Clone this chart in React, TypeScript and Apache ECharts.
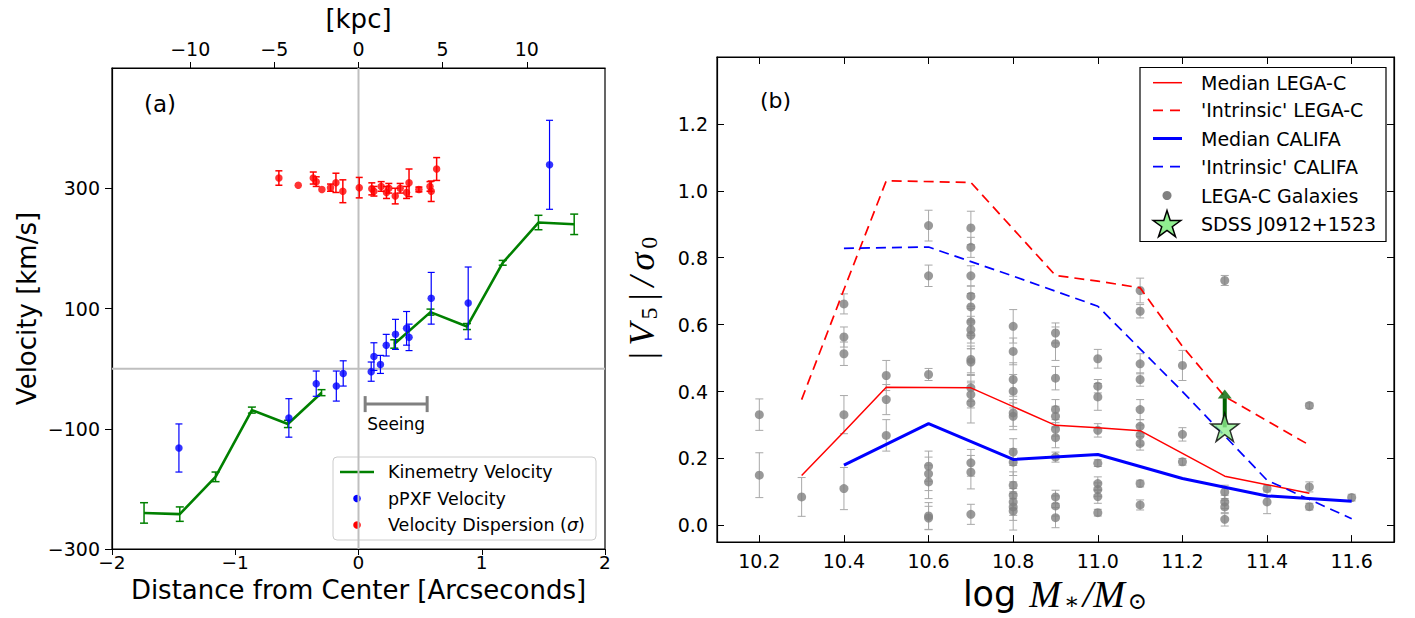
import React, { useEffect, useRef } from 'react';
import * as echarts from 'echarts';

// ---------------- Panel (a) data ----------------
const arcTicks = [-2, -1, 0, 1, 2];
const kpcTicks = [-10, -5, 0, 5, 10];
const velTicks = [-300, -100, 100, 300];

const kinX = [-1.74, -1.45, -1.16, -0.865, -0.573, -0.3, 0.0, 0.29, 0.584, 0.88, 1.17, 1.46, 1.75];
const kinV = [-240, -242, -180, -69, -92, -40, null, 41, 94, 70, 176, 243, 240];
const kinErr = [17, 12, 8, 5, 6, 5, 0, 7, 5, 5, 4, 12, 17];

const ppxfX = [-1.457, -0.565, -0.343, -0.18, -0.124, 0.103, 0.125, 0.178, 0.225, 0.3, 0.39, 0.41, 0.59, 0.89, 1.55];
const ppxfV = [-132, -82, -25, -29, -8, -5, 20, 7, 39, 57, 67, 52, 117, 109, 339];
const ppxfErr = [40, 32, 21, 25, 21, 16, 23, 15, 18, 25, 28, 22, 43, 60, 74];

const dispX = [-0.646, -0.489, -0.367, -0.343, -0.297, -0.227, -0.183, -0.127, 0.006, 0.108, 0.125, 0.184, 0.227, 0.246, 0.298, 0.338, 0.39, 0.41, 0.49, 0.58, 0.59, 0.634];
const dispV = [317, 305, 317, 311, 298, 301, 309, 295, 301, 299, 295, 303, 293, 300, 287, 300, 293, 309, 298, 303, 295, 332];
const dispErr = [12, 0, 10, 8, 0, 6, 16, 19, 17, 10, 8, 8, 10, 8, 13, 8, 10, 23, 4, 8, 17, 19];

const seeingRange = [0.054, 0.557];
const seeingLevel = -59;
const kpcRange = [-14.65, 14.65];

// ---------------- Panel (b) data ----------------
const massTicks = [10.2, 10.4, 10.6, 10.8, 11.0, 11.2, 11.4, 11.6];
const ratioTicks = [0, 0.2, 0.4, 0.6, 0.8, 1.0, 1.2];

const galX = [
  10.2, 10.2,
  10.3,
  10.4, 10.4, 10.4, 10.4, 10.4,
  10.5, 10.5, 10.5,
  10.6, 10.6, 10.6, 10.6, 10.6, 10.6, 10.6, 10.6,
  10.7, 10.7, 10.7, 10.7, 10.7, 10.7, 10.7, 10.7, 10.7, 10.7, 10.7, 10.7, 10.7, 10.7, 10.7, 10.7,
  10.8, 10.8, 10.8, 10.8, 10.8, 10.8, 10.8, 10.8, 10.8, 10.8, 10.8, 10.8, 10.8,
  10.9, 10.9, 10.9, 10.9, 10.9, 10.9, 10.9, 10.9, 10.9, 10.9, 10.9,
  11.0, 11.0, 11.0, 11.0, 11.0, 11.0, 11.0, 11.0, 11.0,
  11.1, 11.1, 11.1, 11.1, 11.1, 11.1, 11.1, 11.1, 11.1, 11.1,
  11.2, 11.2, 11.2,
  11.3, 11.3, 11.3, 11.3, 11.3,
  11.4, 11.4,
  11.5, 11.5, 11.5,
  11.6,
];
const galY = [
  0.331, 0.15,
  0.085,
  0.662, 0.563, 0.513, 0.331, 0.11,
  0.448, 0.376, 0.269,
  0.896, 0.746, 0.451, 0.177, 0.154, 0.13, 0.028, 0.022,
  0.889, 0.831, 0.746, 0.685, 0.653, 0.608, 0.585, 0.568, 0.496, 0.488, 0.411, 0.391, 0.366, 0.187, 0.159, 0.033,
  0.595, 0.52, 0.436, 0.401, 0.336, 0.326, 0.219, 0.189, 0.12, 0.09, 0.07, 0.055, 0.043,
  0.575, 0.543, 0.44, 0.346, 0.326, 0.287, 0.262, 0.204, 0.085, 0.058, 0.023,
  0.498, 0.416, 0.384, 0.284, 0.186, 0.125, 0.107, 0.086, 0.038,
  0.702, 0.64, 0.483, 0.436, 0.346, 0.296, 0.27, 0.245, 0.125, 0.061,
  0.478, 0.272, 0.19,
  0.732, 0.1, 0.07, 0.055, 0.018,
  0.11, 0.07,
  0.358, 0.115, 0.056,
  0.083,
];
const galErr = [
  0.047, 0.067,
  0.058,
  0.03, 0.03, 0.035, 0.057, 0.063,
  0.045, 0.045, 0.047,
  0.046, 0.032, 0.018, 0.045, 0.05, 0.05, 0.04, 0.035,
  0.05, 0.03, 0.03, 0.03, 0.04, 0.04, 0.04, 0.04, 0.04, 0.04, 0.04, 0.04, 0.06, 0.04, 0.05, 0.03,
  0.05, 0.04, 0.05, 0.05, 0.04, 0.04, 0.04, 0.04, 0.04, 0.04, 0.04, 0.04, 0.057,
  0.03, 0.05, 0.035, 0.03, 0.03, 0.02, 0.03, 0.015, 0.02, 0.03, 0.03,
  0.028, 0.02, 0.04, 0.02, 0.01, 0.02, 0.02, 0.02, 0.01,
  0.037, 0.02, 0.03, 0.02, 0.03, 0.02, 0.03, 0.02, 0.01, 0.015,
  0.045, 0.02, 0.01,
  0.015, 0.02, 0.02, 0.02, 0.02,
  0.01, 0.035,
  0.008, 0.015, 0.01,
  0.01,
];

const medLegaX = [10.3, 10.4, 10.5, 10.7, 10.9, 11.0, 11.1, 11.3, 11.5];
const medLegaY = [0.149, 0.28, 0.413, 0.411, 0.299, 0.292, 0.283, 0.147, 0.096];
const intLegaX = [10.3, 10.4, 10.5, 10.7, 10.9, 11.0, 11.1, 11.2, 11.3, 11.5];
const intLegaY = [0.376, 0.705, 1.03, 1.025, 0.747, 0.73, 0.71, 0.535, 0.385, 0.24];
const medCalX = [10.4, 10.6, 10.8, 11.0, 11.2, 11.4, 11.6];
const medCalY = [0.18, 0.304, 0.197, 0.212, 0.14, 0.088, 0.072];
const intCalX = [10.4, 10.6, 10.8, 11.0, 11.2, 11.4, 11.6];
const intCalY = [0.828, 0.832, 0.745, 0.655, 0.4, 0.135, 0.02];

const starX = [11.3];
const starY = [0.293];
const arrowTip = [0.38];
const arrowHead = [0.393];

const SANS = "'DejaVu Sans', sans-serif";
const SERIF = "'Liberation Serif', 'DejaVu Serif', serif";

const STAR_PATH =
  'path://M50,0L61.17,34.63L97.55,34.55L68.07,55.87L79.39,90.45L50,69L20.61,90.45L31.93,55.87L2.45,34.55L38.83,34.63Z';

function starPoints(cx: number, cy: number, R: number) {
  const pts: number[][] = [];
  for (let i = 0; i < 10; i++) {
    const ang = (-90 + i * 36) * Math.PI / 180;
    const r = i % 2 === 0 ? R : R * 0.38;
    pts.push([cx + r * Math.cos(ang), cy + r * Math.sin(ang)]);
  }
  return pts;
}

const minusFmt = (v: number) => (v < 0 ? '\u2212' + Math.abs(v) : String(v));

function errRender(color: string, width: number, cap: number) {
  return (_params: any, api: any) => {
    const x = api.value(0);
    const y = api.value(1);
    const e = api.value(2);
    if (!(e > 0)) return null;
    const t = api.coord([x, y + e]);
    const b = api.coord([x, y - e]);
    const st = { stroke: color, lineWidth: width };
    return {
      type: 'group',
      children: [
        { type: 'line', shape: { x1: t[0], y1: t[1], x2: b[0], y2: b[1] }, style: st },
        { type: 'line', shape: { x1: t[0] - cap / 2, y1: t[1], x2: t[0] + cap / 2, y2: t[1] }, style: st },
        { type: 'line', shape: { x1: b[0] - cap / 2, y1: b[1], x2: b[0] + cap / 2, y2: b[1] }, style: st },
      ],
    };
  };
}

function zip(xs: number[], ys: (number | null)[]) {
  return xs.map((x, i) => (ys[i] == null ? [x, '-'] : [x, ys[i]]));
}
function zip3(xs: number[], ys: (number | null)[], es: number[]) {
  return xs.map((x, i) => [x, ys[i], es[i]]).filter((d) => d[1] != null);
}

function buildOption() {
  const blackLine = { color: '#000', width: 1.2 };
  const txt = { color: '#000', fontFamily: SANS };
  const mathTok = { fontSize: 36, fontFamily: SERIF, fontStyle: 'italic', color: '#000', padding: [0, 3, 0, 3] };
  return {
    animation: false,
    backgroundColor: '#fff',
    grid: [
      { left: 112, top: 68, width: 493, height: 481, show: true, borderColor: '#000', borderWidth: 1.2, containLabel: false },
      { left: 717, top: 57, width: 677, height: 486, show: true, borderColor: '#000', borderWidth: 1.2, containLabel: false },
    ],
    xAxis: [
      {
        type: 'value', gridIndex: 0, min: -2, max: 2, position: 'bottom',
        axisLine: { show: true, onZero: false, lineStyle: blackLine },
        axisTick: { show: true, inside: false, length: 6, customValues: arcTicks, lineStyle: { color: '#000' } },
        axisLabel: { show: true, customValues: arcTicks, formatter: minusFmt, fontSize: 18.5, margin: 4, ...txt },
        splitLine: { show: false },
        name: 'Distance from Center [Arcseconds]', nameLocation: 'middle', nameGap: 20,
        nameTextStyle: { fontSize: 26, ...txt },
      },
      {
        type: 'value', gridIndex: 0, min: kpcRange[0], max: kpcRange[1], position: 'top',
        axisLine: { show: true, onZero: false, lineStyle: blackLine },
        axisTick: { show: true, inside: false, length: 6, customValues: kpcTicks, lineStyle: { color: '#000' } },
        axisLabel: { show: true, customValues: kpcTicks, formatter: minusFmt, fontSize: 19, margin: 10, ...txt },
        splitLine: { show: false },
        name: '[kpc]', nameLocation: 'middle', nameGap: 36,
        nameTextStyle: { fontSize: 26, ...txt },
      },
      {
        type: 'value', gridIndex: 1, min: 10.1, max: 11.7, position: 'bottom',
        axisLine: { show: true, onZero: false, lineStyle: blackLine },
        axisTick: { show: true, inside: true, length: 7, customValues: massTicks, lineStyle: { color: '#000' } },
        axisLabel: { show: true, customValues: massTicks, formatter: (v: number) => v.toFixed(1), fontSize: 19, margin: 9, ...txt },
        splitLine: { show: false },
        name: '{n|log }{m|M}{s|\u2217}{m|/M}{s|\u2299}', nameLocation: 'middle', nameGap: 32,
        nameTextStyle: {
          ...txt,
          rich: {
            n: { fontSize: 35, fontFamily: SANS, color: '#000' },
            m: { fontSize: 38, fontFamily: SERIF, fontStyle: 'italic', color: '#000', padding: [0, 2, 0, 2] },
            s: { fontSize: 23, fontFamily: SERIF, color: '#000', verticalAlign: 'bottom', padding: [14, 1, 0, 1] },
          },
        },
      },
      {
        type: 'value', gridIndex: 1, min: 10.1, max: 11.7, position: 'top',
        axisLine: { show: true, onZero: false, lineStyle: blackLine },
        axisTick: { show: true, inside: true, length: 7, customValues: massTicks, lineStyle: { color: '#000' } },
        axisLabel: { show: false },
        splitLine: { show: false },
      },
    ],
    yAxis: [
      {
        type: 'value', gridIndex: 0, min: -300, max: 500,
        axisLine: { show: true, onZero: false, lineStyle: blackLine },
        axisTick: { show: true, inside: false, length: 7, customValues: velTicks, lineStyle: { color: '#000' } },
        axisLabel: { show: true, customValues: velTicks, formatter: minusFmt, fontSize: 19, margin: 12, ...txt },
        splitLine: { show: false },
        name: 'Velocity [km/s]', nameLocation: 'middle', nameGap: 72,
        nameTextStyle: { fontSize: 26, ...txt },
      },
      {
        type: 'value', gridIndex: 1, min: -0.05, max: 1.4,
        axisLine: { show: true, onZero: false, lineStyle: blackLine },
        axisTick: { show: true, inside: true, length: 7, customValues: ratioTicks, lineStyle: { color: '#000' } },
        axisLabel: { show: true, customValues: ratioTicks, formatter: (v: number) => v.toFixed(1), fontSize: 19, margin: 9, ...txt },
        splitLine: { show: false },
        name: '{m||}{m|V}{s|5}{m||}{m|/}{m|\u03c3}{s|0}', nameLocation: 'middle', nameGap: 56,
        nameTextStyle: {
          ...txt,
          rich: {
            m: mathTok,
            s: { fontSize: 24, fontFamily: SERIF, color: '#000', verticalAlign: 'bottom', padding: [14, 2, 0, 1] },
          },
        },
      },
      {
        type: 'value', gridIndex: 1, min: -0.05, max: 1.4, position: 'right',
        axisLine: { show: true, onZero: false, lineStyle: blackLine },
        axisTick: { show: true, inside: true, length: 7, customValues: ratioTicks, lineStyle: { color: '#000' } },
        axisLabel: { show: false },
        splitLine: { show: false },
      },
    ],
    series: [
      // reference lines panel (a)
      {
        type: 'line', xAxisIndex: 0, yAxisIndex: 0, z: 1, symbol: 'none', silent: true,
        data: [[0, -300], [0, 500]], lineStyle: { color: '#bfbfbf', width: 2 },
      },
      {
        type: 'line', xAxisIndex: 0, yAxisIndex: 0, z: 1, symbol: 'none', silent: true,
        data: [[-2, 0], [2, 0]], lineStyle: { color: '#bfbfbf', width: 2 },
      },
      // seeing bar
      {
        type: 'custom', xAxisIndex: 0, yAxisIndex: 0, z: 2, silent: true,
        data: [[seeingRange[0], seeingRange[1], seeingLevel]],
        encode: { x: [0, 1], y: 2 },
        renderItem: (_p: any, api: any) => {
          const a = api.coord([api.value(0), api.value(2)]);
          const b = api.coord([api.value(1), api.value(2)]);
          const st = { stroke: '#808080', lineWidth: 3 };
          return {
            type: 'group',
            children: [
              { type: 'line', shape: { x1: a[0], y1: a[1], x2: b[0], y2: b[1] }, style: st },
              { type: 'line', shape: { x1: a[0], y1: a[1] - 8, x2: a[0], y2: a[1] + 8 }, style: st },
              { type: 'line', shape: { x1: b[0], y1: b[1] - 8, x2: b[0], y2: b[1] + 8 }, style: st },
              {
                type: 'text',
                style: {
                  text: 'Seeing', x: (a[0] + b[0]) / 2, y: a[1] + 20, align: 'center', verticalAlign: 'middle',
                  fontSize: 17, fontFamily: SANS, fill: '#000',
                },
              },
            ],
          };
        },
      },
      // kinemetry
      {
        type: 'custom', xAxisIndex: 0, yAxisIndex: 0, z: 3, silent: true,
        data: zip3(kinX, kinV, kinErr), encode: { x: 0, y: 1 },
        renderItem: errRender('#008000', 1.5, 8),
      },
      {
        type: 'line', name: 'Kinemetry Velocity', xAxisIndex: 0, yAxisIndex: 0, z: 4, symbol: 'none',
        connectNulls: false, data: zip(kinX, kinV), lineStyle: { color: '#008000', width: 2.6 },
      },
      // pPXF
      {
        type: 'custom', xAxisIndex: 0, yAxisIndex: 0, z: 5, silent: true,
        data: zip3(ppxfX, ppxfV, ppxfErr), encode: { x: 0, y: 1 },
        renderItem: errRender('#0000ff', 1.2, 7),
      },
      {
        type: 'scatter', name: 'pPXF Velocity', xAxisIndex: 0, yAxisIndex: 0, z: 6, symbolSize: 7.5,
        data: zip(ppxfX, ppxfV), itemStyle: { color: '#0000ff' },
      },
      // dispersion
      {
        type: 'custom', xAxisIndex: 0, yAxisIndex: 0, z: 5, silent: true,
        data: zip3(dispX, dispV, dispErr), encode: { x: 0, y: 1 },
        renderItem: errRender('#ff0000', 1.5, 7),
      },
      {
        type: 'scatter', name: 'Velocity Dispersion', xAxisIndex: 0, yAxisIndex: 0, z: 6, symbolSize: 7.5,
        data: zip(dispX, dispV), itemStyle: { color: '#ff0000' },
      },
      // Panel (b)
      {
        type: 'custom', xAxisIndex: 2, yAxisIndex: 1, z: 2, silent: true,
        data: zip3(galX, galY, galErr), encode: { x: 0, y: 1 },
        renderItem: errRender('#a8a8a8', 1, 8),
      },
      {
        type: 'scatter', name: 'LEGA-C Galaxies', xAxisIndex: 2, yAxisIndex: 1, z: 3, symbolSize: 9,
        data: zip(galX, galY), itemStyle: { color: '#808080' },
      },
      {
        type: 'line', name: 'Median LEGA-C', xAxisIndex: 2, yAxisIndex: 1, z: 4, symbol: 'none',
        data: zip(medLegaX, medLegaY), lineStyle: { color: '#ff0000', width: 1.5 },
      },
      {
        type: 'line', name: "'Intrinsic' LEGA-C", xAxisIndex: 2, yAxisIndex: 1, z: 4, symbol: 'none',
        data: zip(intLegaX, intLegaY), lineStyle: { color: '#ff0000', width: 1.7, type: [10, 6] },
      },
      {
        type: 'line', name: 'Median CALIFA', xAxisIndex: 2, yAxisIndex: 1, z: 4, symbol: 'none',
        data: zip(medCalX, medCalY), lineStyle: { color: '#0000ff', width: 3 },
      },
      {
        type: 'line', name: "'Intrinsic' CALIFA", xAxisIndex: 2, yAxisIndex: 1, z: 4, symbol: 'none',
        data: zip(intCalX, intCalY), lineStyle: { color: '#0000ff', width: 1.7, type: [10, 6] },
      },
      // arrow
      {
        type: 'line', xAxisIndex: 2, yAxisIndex: 1, z: 5, symbol: 'none', silent: true,
        data: [[starX[0], starY[0]], [starX[0], arrowTip[0]]], lineStyle: { color: '#006400', width: 4 },
      },
      {
        type: 'scatter', xAxisIndex: 2, yAxisIndex: 1, z: 5, symbol: 'triangle', symbolSize: [14, 9], silent: true,
        data: zip(starX, arrowHead), itemStyle: { color: '#006400' },
      },
      {
        type: 'scatter', name: 'SDSS J0912+1523', xAxisIndex: 2, yAxisIndex: 1, z: 6, symbol: STAR_PATH,
        symbolSize: 28, data: zip(starX, starY),
        itemStyle: { color: '#90ee90', borderColor: '#000', borderWidth: 1.5 },
      },
    ],
    graphic: [
      {
        type: 'text', x: 144, y: 92,
        style: { text: '(a)', fontSize: 23, fontFamily: SANS, fill: '#000' },
      },
      {
        type: 'text', x: 760, y: 89,
        style: { text: '(b)', fontSize: 22, fontFamily: SANS, fill: '#000' },
      },
      // legend (a)
      {
        type: 'group', x: 0, y: 0,
        children: [
          { type: 'rect', shape: { x: 333, y: 457, width: 263, height: 83, r: 4 }, style: { fill: 'rgba(255,255,255,0.85)', stroke: '#cccccc', lineWidth: 1 } },
          { type: 'line', shape: { x1: 340, y1: 472, x2: 374, y2: 472 }, style: { stroke: '#008000', lineWidth: 2.6 } },
          { type: 'circle', shape: { cx: 357, cy: 498.5, r: 3.8 }, style: { fill: '#0000ff' } },
          { type: 'circle', shape: { cx: 357, cy: 525, r: 3.8 }, style: { fill: '#ff0000' } },
          { type: 'text', style: { text: 'Kinemetry Velocity', x: 388, y: 472, verticalAlign: 'middle', fontSize: 17.5, fontFamily: SANS, fill: '#000' } },
          { type: 'text', style: { text: 'pPXF Velocity', x: 388, y: 498.5, verticalAlign: 'middle', fontSize: 17.5, fontFamily: SANS, fill: '#000' } },
          {
            type: 'text',
            style: {
              text: '{r|Velocity Dispersion (}{i|\u03c3}{r|)}', x: 388, y: 525, verticalAlign: 'middle',
              fontSize: 17.5, fontFamily: SANS, fill: '#000',
              rich: {
                r: { fontSize: 17.5, fontFamily: SANS, fill: '#000' },
                i: { fontSize: 17.5, fontFamily: SANS, fontStyle: 'italic', fill: '#000' },
              },
            },
          },
        ],
      },
      // legend (b)
      {
        type: 'group', x: 0, y: 0,
        children: [
          { type: 'rect', shape: { x: 1140, y: 67.5, width: 246, height: 174 }, style: { fill: '#fff', stroke: '#000', lineWidth: 1.2 } },
          { type: 'line', shape: { x1: 1153, y1: 82.7, x2: 1182, y2: 82.7 }, style: { stroke: '#ff0000', lineWidth: 1.5 } },
          { type: 'line', shape: { x1: 1153, y1: 110.3, x2: 1182, y2: 110.3 }, style: { stroke: '#ff0000', lineWidth: 1.7, lineDash: [10, 7] } },
          { type: 'line', shape: { x1: 1153, y1: 138.5, x2: 1182, y2: 138.5 }, style: { stroke: '#0000ff', lineWidth: 3 } },
          { type: 'line', shape: { x1: 1153, y1: 166.7, x2: 1182, y2: 166.7 }, style: { stroke: '#0000ff', lineWidth: 1.7, lineDash: [10, 7] } },
          { type: 'circle', shape: { cx: 1167, cy: 195.5, r: 4.5 }, style: { fill: '#808080' } },
          { type: 'polygon', shape: { points: starPoints(1167, 225, 14.5) }, style: { fill: '#90ee90', stroke: '#000', lineWidth: 1.5 } },
          { type: 'text', style: { text: 'Median LEGA-C', x: 1201, y: 82.7, verticalAlign: 'middle', fontSize: 19, fontFamily: SANS, fill: '#000' } },
          { type: 'text', style: { text: "'Intrinsic' LEGA-C", x: 1201, y: 110.3, verticalAlign: 'middle', fontSize: 19, fontFamily: SANS, fill: '#000' } },
          { type: 'text', style: { text: 'Median CALIFA', x: 1201, y: 138.5, verticalAlign: 'middle', fontSize: 19, fontFamily: SANS, fill: '#000' } },
          { type: 'text', style: { text: "'Intrinsic' CALIFA", x: 1201, y: 166.7, verticalAlign: 'middle', fontSize: 19, fontFamily: SANS, fill: '#000' } },
          { type: 'text', style: { text: 'LEGA-C Galaxies', x: 1201, y: 195.5, verticalAlign: 'middle', fontSize: 19, fontFamily: SANS, fill: '#000' } },
          { type: 'text', style: { text: 'SDSS J0912+1523', x: 1201, y: 224.3, verticalAlign: 'middle', fontSize: 19, fontFamily: SANS, fill: '#000' } },
        ],
      },
    ],
  };
}

export default function App() {
  const ref = useRef<HTMLDivElement>(null);
  useEffect(() => {
    if (!ref.current) return;
    const chart = echarts.init(ref.current, undefined, { renderer: 'svg' });
    chart.setOption(buildOption() as any);
    return () => chart.dispose();
  }, []);
  return (
    <div
      ref={ref}
      style={{ position: 'absolute', left: 0, top: 0, width: 1415, height: 618, background: '#fff' }}
    />
  );
}
